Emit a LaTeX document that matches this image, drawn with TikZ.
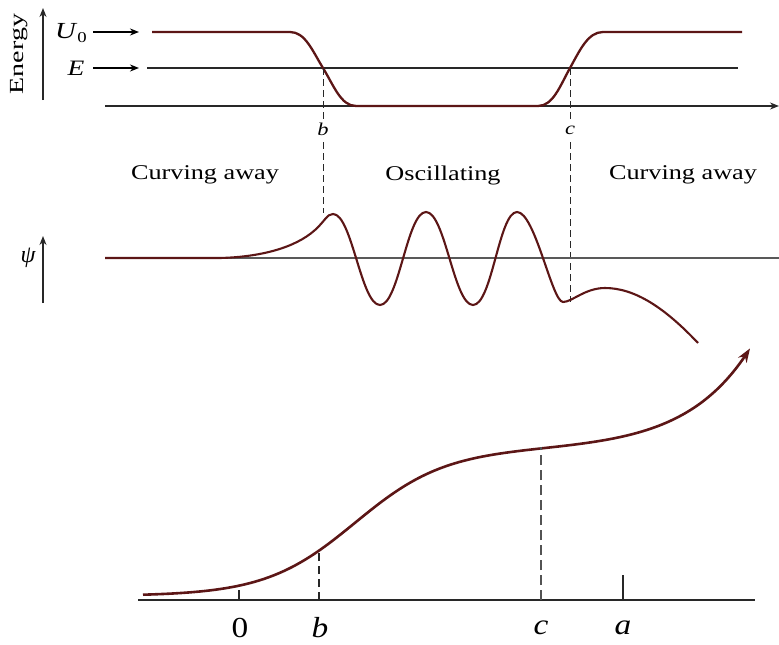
\documentclass[tikz,border=0pt]{standalone}
\usepackage{graphicx}
\usepackage{fontspec}
\setmainfont{Liberation Serif}
\usetikzlibrary{arrows.meta}
\definecolor{curvecol}{RGB}{92,22,22}
\definecolor{axiscol}{RGB}{40,40,40}
\newcommand{\hs}[2][1.25]{\scalebox{#1}[1]{#2}}
\begin{document}
\begin{tikzpicture}[x=1pt,y=-1pt,
  pot/.style={draw=curvecol,line width=2.3pt,line join=round},
  wave/.style={draw=curvecol,line width=2.1pt,line join=round},
  axisline/.style={draw=axiscol,line width=1.3pt},
  guide/.style={draw=axiscol,line width=1pt,dash pattern=on 7pt off 4pt},
  bigguide/.style={draw=axiscol!80,line width=2.2pt,dash pattern=on 10pt off 5pt},
  tip/.style={-{Stealth[length=9pt,width=7pt]}},
  region/.style={inner sep=0pt,font=\fontsize{21}{21}\selectfont},
  tlabel/.style={inner sep=0pt,font=\fontsize{18}{18}\selectfont\itshape},
  blabel/.style={inner sep=0pt,font=\fontsize{29}{29}\selectfont}]
\useasboundingbox (0,0) rectangle (779,645);

% ---------- top panel: potential energy ----------
\node[inner sep=0pt,font=\fontsize{20}{20}\selectfont] (energy) at (19,54)
  {\rotatebox{90}{\hs[1.4]{Energy}}};
\coordinate (ebot) at (43,100);
\coordinate (etop) at (43,8);
\draw[axisline,tip] (ebot) -- (etop);

\node[inner sep=0pt,font=\fontsize{23}{23}\selectfont] (U0) at (71,33)
  {\hs{\textit{U}\raisebox{-0.35ex}{\fontsize{15}{15}\selectfont 0}}};
\node[inner sep=0pt,font=\fontsize{22}{22}\selectfont] (Elab) at (76,68) {\hs{\textit{E}}};
\coordinate (ua) at (93,32); \coordinate (ub) at (139,32);
\coordinate (ea) at (93,68); \coordinate (eb) at (139,68);
\draw[line width=2pt,tip] (ua) -- (ub);
\draw[line width=2pt,tip] (ea) -- (eb);

% energy level line and axis
\coordinate (Estart) at (147,68); \coordinate (Eend) at (738,68);
\draw[axiscol,line width=1.3pt] (Estart) -- (Eend);
\coordinate (xa) at (105,106); \coordinate (xb) at (779,106);
\draw[axisline,line width=1.5pt,tip] (xa) -- (xb);

% potential curve
\draw[pot] (152,32) -- (290,32)
  .. controls (305,32) and (312,50) .. (323,68)
  .. controls (334,86) and (341,106) .. (356,106) -- (538,106)
  .. controls (553,106) and (560,86) .. (570,68)
  .. controls (580,50) and (588,32) .. (603,32) -- (742,32);

% turning points
\coordinate (bE) at (323,68);
\coordinate (cE) at (570,68);
\node[tlabel] (btop) at (323,129) {\hs{b}};
\node[tlabel] (ctop) at (570,130) {\hs{c}};
\coordinate (bpk) at (323,213);
\coordinate (ctr) at (570,302);
\draw[guide] (bE) -- (323,119);
\draw[guide] (323,142) -- (bpk);
\draw[guide] (cE) -- (570,119);
\draw[guide] (570,142) -- (ctr);

% region labels
\node[region] (cl) at (205,175) {\hs{Curving away}};
\node[region] (osc) at (443,175) {\hs{Oscillating}};
\node[region] (cr) at (683,175) {\hs{Curving away}};

% ---------- middle panel: wave function ----------
\node[inner sep=0pt,font=\fontsize{24}{24}\selectfont\itshape] (psi) at (28,258) {ψ};
\coordinate (pa) at (43,303); \coordinate (pb) at (43,236);
\draw[axisline,tip] (pa) -- (pb);
\coordinate (la) at (105,258); \coordinate (lb) at (779,258);
\draw[draw=black!65,line width=1.6pt] (la) -- (lb);

\draw[wave] (105,258) -- (220,258)
  .. controls (260,257) and (295,248) .. (315,230)
  .. controls (325,221) and (327,214) .. (333,214)
  .. controls (352,214) and (361,305) .. (380,305)
  .. controls (399,305) and (407,212) .. (426,212)
  .. controls (445,212) and (454,305) .. (473,305)
  .. controls (492,305) and (499,212) .. (517,212)
  .. controls (535,212) and (552,302) .. (563,302)
  .. controls (572,302) and (585,288) .. (605,288)
  .. controls (635,288) and (665,308) .. (698,343);

% ---------- bottom panel ----------
\coordinate (ba) at (138,600); \coordinate (bb) at (755,600);
\draw[axiscol,line width=1.6pt] (ba) -- (bb);

\draw[curvecol,line width=2.6pt,line join=round,-{Stealth[length=14pt,width=10pt]}]
  plot[domain=143:750,samples=160,smooth]
  (\x,{600-(4+146/(1+exp(-(\x-355)/45))+100*exp((\x-749)/64))});

\node[blabel] (l0) at (240,628) {\hs[1.15]{0}};
\node[blabel] (lb2) at (320,628) {\hs[1.15]{\textit{b}}};
\node[blabel] (lc2) at (541,628) {\hs[1.15]{\textit{c}}};
\node[blabel] (la2) at (623,628) {\hs[1.15]{\textit{a}}};

\draw[axiscol,line width=1.3pt] (239,600) -- (239,590);
\draw[guide,line width=1.4pt,dash pattern=on 8pt off 5pt] (319,600) -- (319,550);
\draw[bigguide] (541,600) -- (541,447);
\draw[axiscol,line width=1.5pt] (623,600) -- (623,575);
\end{tikzpicture}
\end{document}
